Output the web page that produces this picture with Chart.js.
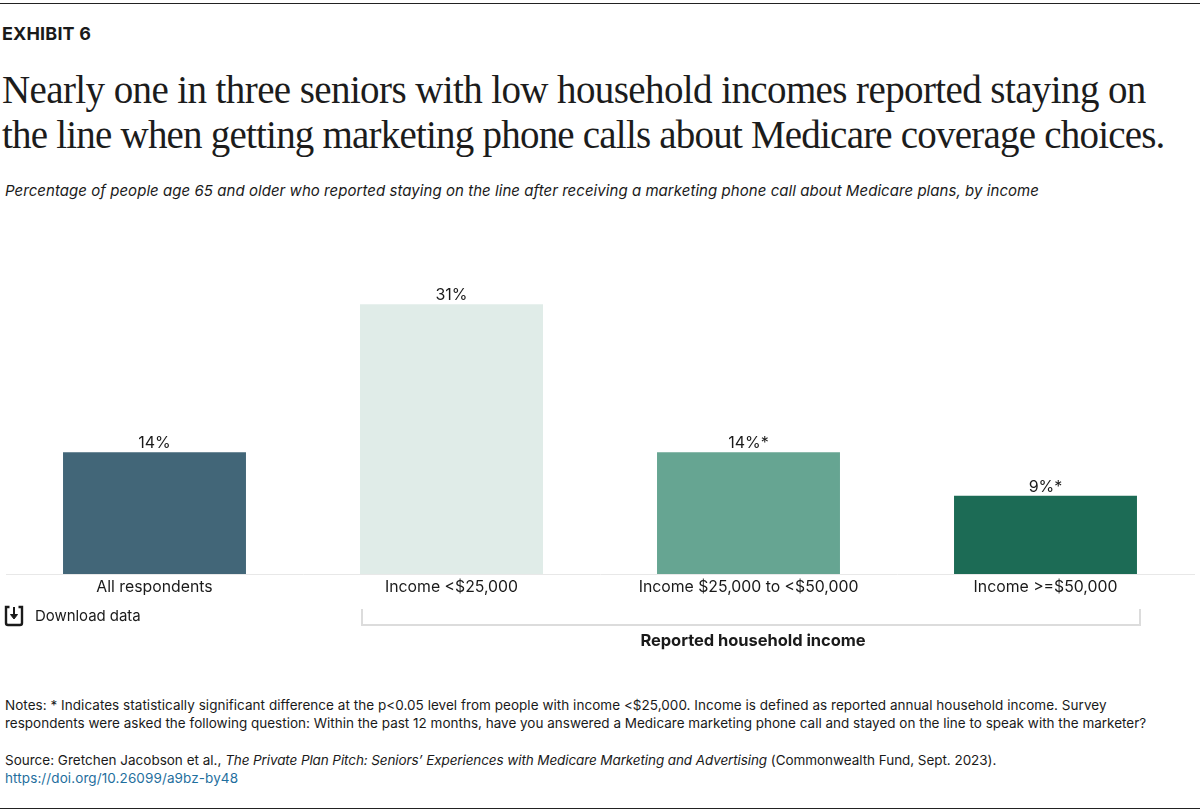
<!DOCTYPE html>
<html><head><meta charset="utf-8">
<script src="https://cdn.jsdelivr.net/npm/chart.js@4"></script>
<style>
html,body{margin:0;padding:0;background:#fff;}
body{width:1200px;height:812px;position:relative;overflow:hidden;font-family:Inter,"Open Sans",sans-serif;color:#1a1a1a;}
.a{position:absolute;white-space:nowrap;}
#c{position:absolute;left:0;top:226px;}
</style></head><body>
<div class="a" style="left:0;top:3px;width:1200px;height:1px;background:#222"></div>
<div class="a" style="left:2px;top:24px;font-size:18px;font-weight:700;letter-spacing:.15px;line-height:20px">EXHIBIT 6</div>
<div class="a" style="left:2px;top:67px;font-family:'Liberation Serif',serif;font-size:39px;line-height:45px;color:#1c1c1c"><span style="letter-spacing:-.6px">Nearly one in three seniors with low household incomes reported staying on</span><br><span style="letter-spacing:-.79px">the line when getting marketing phone calls about Medicare coverage choices.</span></div>
<div class="a" style="left:5px;top:181px;font-size:15px;letter-spacing:.05px;font-style:italic;line-height:20px">Percentage of people age 65 and older who reported staying on the line after receiving a marketing phone call about Medicare plans, by income</div>
<canvas id="c" width="1200" height="384" style="width:1200px;height:384px"></canvas>
<svg class="a" style="left:4px;top:605px" width="22" height="22" viewBox="0 0 22 22" fill="none" stroke="#1a1a1a" stroke-width="2.4"><path d="M5.500 2H2V18Q2 20 4 20H16Q18 20 18 18V2H14.500"/><path d="M10 2V12" stroke-width="2"/><path d="M6.500 9.500L10 14L13.500 9.500Z" fill="#1a1a1a" stroke-width="1"/></svg>
<div class="a" style="left:35px;top:606px;font-size:15px;line-height:20px;letter-spacing:-.05px">Download data</div>
<div class="a" style="left:361px;top:609px;width:776px;height:15px;border:2px solid #dcdcdc;border-top:none"></div>
<div class="a" style="left:361px;width:784px;top:630px;text-align:center;font-size:16.500px;font-weight:700;line-height:20px;letter-spacing:-.05px">Reported household income</div>
<div class="a" style="left:5px;top:696px;font-size:13.500px;line-height:18px"><span style="letter-spacing:.035px">Notes: * Indicates statistically significant difference at the p&lt;0.05 level from people with income &lt;$25,000. Income is defined as reported annual household income. Survey</span><br>respondents were asked the following question: Within the past 12 months, have you answered a Medicare marketing phone call and stayed on the line to speak with the marketer?</div>
<div class="a" style="left:5px;top:751px;font-size:13.500px;line-height:18px">Source: Gretchen Jacobson et al., <i style="letter-spacing:-.1px">The Private Plan Pitch: Seniors’ Experiences with Medicare Marketing and Advertising</i><span style="letter-spacing:-.05px"> (Commonwealth Fund, Sept. 2023).</span><br><span style="color:#1f6f9e;letter-spacing:.1px">https://doi.org/10.26099/a9bz-by48</span></div>
<div class="a" style="left:0;top:808px;width:1200px;height:1px;background:#222"></div>
<script>
const categories = ["All respondents","Income <$25,000","Income $25,000 to <$50,000","Income >=$50,000"];
const values = [14,31,14,9];
const valueLabels = ["14%","31%","14%*","9%*"];
const barColors = ["#426678","#e0ece8","#66a592","#1c6b55"];
const valueLabelPlugin = {
  id:'valueLabels',
  afterDatasetsDraw(chart){
    const ctx=chart.ctx, meta=chart.getDatasetMeta(0);
    ctx.save();
    ctx.font='16px Inter, sans-serif';
    ctx.fillStyle='#1a1a1a';
    ctx.textAlign='center';
    ctx.textBaseline='bottom';
    meta.data.forEach((el,i)=>ctx.fillText(valueLabels[i],el.x,el.y-1));
    ctx.restore();
  }
};
new Chart(document.getElementById('c'),{
  type:'bar',
  data:{labels:categories,datasets:[{data:values,backgroundColor:barColors,borderWidth:0,categoryPercentage:1,barPercentage:0.616}]},
  plugins:[valueLabelPlugin],
  options:{
    responsive:false,animation:false,
    layout:{padding:{left:6,right:6,top:0,bottom:0}},
    plugins:{legend:{display:false},tooltip:{enabled:false},title:{display:false}},
    scales:{
      y:{display:false,min:0,max:40},
      x:{
        afterFit(s){s.height=36;},
        grid:{display:false,drawTicks:false},
        border:{display:true,color:'#e8e8e8',width:1},
        ticks:{color:'#1a1a1a',font:{family:'Inter, sans-serif',size:15.8},padding:4,maxRotation:0,autoSkip:false}
      }
    }
  }
});
</script>
</body></html>
